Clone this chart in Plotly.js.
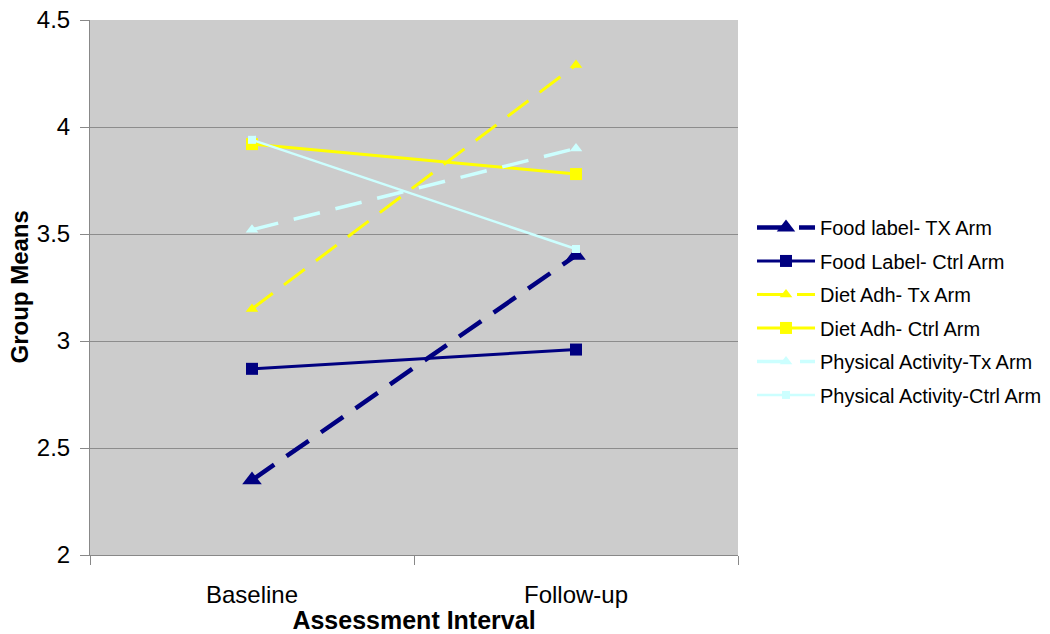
<!DOCTYPE html>
<html>
<head>
<meta charset="utf-8">
<script src="https://cdn.plot.ly/plotly-3.0.1.min.js"></script>
<style>
  html, body { margin: 0; padding: 0; background: #ffffff; }
  #chart { width: 1050px; height: 634px; }
</style>
</head>
<body>
<div id="chart"></div>
<script>
const categories = ["Baseline", "Follow-up"];

const seriesNames = [
  "Food label- TX Arm",
  "Food Label- Ctrl Arm",
  "Diet Adh- Tx Arm",
  "Diet Adh- Ctrl Arm",
  "Physical Activity-Tx Arm",
  "Physical Activity-Ctrl Arm"
];

const foodLabelTx   = [2.35, 3.40];
const foodLabelCtrl = [2.87, 2.96];
const dietAdhTx     = [3.15, 4.29];
const dietAdhCtrl   = [3.92, 3.78];
const physActTx     = [3.52, 3.90];
const physActCtrl   = [3.94, 3.43];

const yTickVals = [2, 2.5, 3, 3.5, 4, 4.5];
const yTickText = ["2", "2.5", "3", "3.5", "4", "4.5"];

const xTitle = "Assessment Interval";
const yTitle = "Group Means";

const NAVY = "#000080";
const YELLOW = "#FFFF00";
const CYAN = "#CCFFFF";
const FONT = "Liberation Sans, Arial, sans-serif";

function trace(name, values, color, width, dash, symbol, size, group) {
  return {
    type: "scatter",
    mode: "lines+markers",
    name: name,
    x: categories,
    y: values,
    legendgroup: group,
    line: { color: color, width: width, dash: dash },
    marker: { color: color, symbol: symbol, size: size, line: { width: 0 } },
    cliponaxis: false
  };
}

const data = [
  trace(seriesNames[0], foodLabelTx,   NAVY,   4.5, "27px,15px", "triangle-up", 17, "g1"),
  trace(seriesNames[1], foodLabelCtrl, NAVY,   3,   "solid",     "square",      12, "g2"),
  trace(seriesNames[2], dietAdhTx,     YELLOW, 3,   "26px,14px", "triangle-up", 11, "g3"),
  trace(seriesNames[3], dietAdhCtrl,   YELLOW, 3,   "solid",     "square",      12, "g4"),
  trace(seriesNames[4], physActTx,     CYAN,   3.5, "27px,16px", "triangle-up", 11, "g5"),
  trace(seriesNames[5], physActCtrl,   CYAN,   2.5, "solid",     "square",      8,  "g6")
];

const layout = {
  width: 1050,
  height: 634,
  margin: { l: 90, r: 312, t: 20, b: 79, pad: 0 },
  paper_bgcolor: "#ffffff",
  plot_bgcolor: "#cccccc",
  font: { family: FONT, color: "#000000", size: 20 },
  showlegend: true,
  legend: {
    xref: "container", yref: "container",
    x: 0.7162, xanchor: "left",
    y: 0.672, yanchor: "top",
    bgcolor: "rgba(0,0,0,0)",
    borderwidth: 0,
    font: { size: 20, family: FONT, color: "#000000" },
    itemwidth: 58,
    tracegroupgap: 4.5,
    traceorder: "grouped"
  },
  xaxis: {
    type: "category",
    range: [-0.5, 1.5],
    tickson: "boundaries",
    ticks: "outside",
    ticklen: 9,
    tickcolor: "#888888",
    tickwidth: 1,
    showline: true,
    linecolor: "#888888",
    linewidth: 1,
    showgrid: false,
    zeroline: false,
    tickfont: { size: 24, family: FONT },
    ticklabelstandoff: 18,
    title: {
      text: "<b>" + xTitle + "</b>",
      font: { size: 25, family: FONT },
      standoff: 0
    },
    automargin: false,
    fixedrange: true
  },
  yaxis: {
    range: [2, 4.5],
    tickvals: yTickVals,
    ticktext: yTickText,
    ticks: "outside",
    ticklen: 9,
    tickcolor: "#888888",
    tickwidth: 1,
    showline: true,
    linecolor: "#888888",
    linewidth: 1,
    showgrid: true,
    gridcolor: "#8c8c8c",
    gridwidth: 1,
    zeroline: false,
    tickfont: { size: 24, family: FONT },
    ticklabelstandoff: 5,
    automargin: false,
    fixedrange: true
  },
  annotations: [{
    text: "<b>" + yTitle + "</b>",
    xref: "paper", yref: "paper",
    x: 0, y: 0.5,
    xanchor: "center", yanchor: "middle",
    xshift: -71,
    textangle: -90,
    showarrow: false,
    font: { size: 24, family: FONT, color: "#000000" }
  }]
};

Plotly.newPlot("chart", data, layout, { staticPlot: true, displayModeBar: false });
</script>
</body>
</html>
